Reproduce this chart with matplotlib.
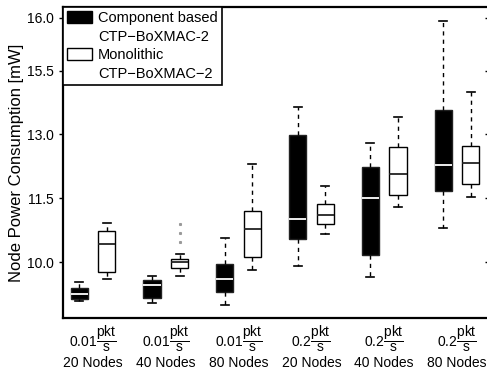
import numpy as np
import matplotlib
matplotlib.use("Agg")
import matplotlib.pyplot as plt
from matplotlib.patches import Patch

plt.rcParams['font.family'] = ['Liberation Sans', 'DejaVu Sans']
plt.rcParams['mathtext.fontset'] = 'custom'
plt.rcParams['mathtext.rm'] = 'Liberation Sans'

#Data (box statistics per configuration)
groups = ["0.01$\\dfrac{\\mathrm{pkt}}{\\mathrm{s}}$\n20 Nodes",
          "0.01$\\dfrac{\\mathrm{pkt}}{\\mathrm{s}}$\n40 Nodes",
          "0.01$\\dfrac{\\mathrm{pkt}}{\\mathrm{s}}$\n80 Nodes",
          "0.2$\\dfrac{\\mathrm{pkt}}{\\mathrm{s}}$\n20 Nodes",
          "0.2$\\dfrac{\\mathrm{pkt}}{\\mathrm{s}}$\n40 Nodes",
          "0.2$\\dfrac{\\mathrm{pkt}}{\\mathrm{s}}$\n80 Nodes"]

comp_lo  = [9.09, 9.03, 8.99, 9.91, 9.64, 10.79]
comp_q1  = [9.13, 9.15, 9.30, 10.53, 10.16, 11.66]
comp_med = [9.26, 9.45, 9.59, 11.01, 11.49, 12.28]
comp_q3  = [9.40, 9.58, 9.95, 12.98, 12.22, 13.56]
comp_hi  = [9.52, 9.67, 10.57, 13.64, 12.80, 15.65]

mono_lo  = [9.61, 9.67, 9.81, 10.65, 11.30, 11.53]
mono_q1  = [9.76, 9.85, 10.11, 10.89, 11.57, 11.84]
mono_med = [10.42, 10.01, 10.77, 11.11, 12.06, 12.31]
mono_q3  = [10.73, 10.06, 11.20, 11.35, 12.69, 12.72]
mono_hi  = [10.92, 10.19, 12.30, 11.79, 13.41, 13.98]
mono_fliers = [[], [10.47, 10.68, 10.89], [], [], [], []]

#Tick labels of the y axis (label positions in data units)
ytick_pos = [10.0, 11.5, 13.0, 14.48, 15.72]
ytick_labels = ["10.0", "11.5", "13.0", "15.5", "16.0"]

def make_stats(lo, q1, med, q3, hi, fliers=None):
    out = []
    for i in range(len(lo)):
        out.append({"whislo": lo[i], "q1": q1[i], "med": med[i], "q3": q3[i],
                    "whishi": hi[i], "fliers": fliers[i] if fliers else []})
    return out

fig = plt.figure(figsize=(4.87, 3.72), dpi=100)
ax = fig.add_axes([63/487, 54/372, 426/487, 311/372])

centers = np.arange(1, 7)
w = 0.235
ax.bxp(make_stats(comp_lo, comp_q1, comp_med, comp_q3, comp_hi),
       positions=centers - 0.19, widths=w, capwidths=0.11, patch_artist=True,
       boxprops=dict(facecolor='black', edgecolor='#222222', linewidth=1),
       medianprops=dict(color='white', linewidth=1.3),
       whiskerprops=dict(color='black', linestyle=(0, (3, 3)), linewidth=1),
       capprops=dict(color='black', linewidth=1.2), manage_ticks=False)
ax.bxp(make_stats(mono_lo, mono_q1, mono_med, mono_q3, mono_hi, mono_fliers),
       positions=centers + 0.19, widths=w, capwidths=0.11, patch_artist=True,
       boxprops=dict(facecolor='white', edgecolor='black', linewidth=1),
       medianprops=dict(color='#222222', linewidth=1.3),
       whiskerprops=dict(color='black', linestyle=(0, (3, 3)), linewidth=1),
       capprops=dict(color='black', linewidth=1.2),
       flierprops=dict(marker='s', markersize=1.2, markerfacecolor='#999999',
                       markeredgecolor='#999999'), manage_ticks=False)

ax.set_xlim(0.588, 6.44)
ax.set_ylim(8.6875, 15.977)
ax.set_xticks(centers)
ax.set_xticklabels(groups, fontsize=10)
ax.tick_params(axis='x', length=0, pad=4)
ax.set_yticks(ytick_pos)
ax.set_yticklabels(ytick_labels, fontsize=10)
ax.tick_params(axis='y', direction='out', length=3, width=1)
ax.set_ylabel("Node Power Consumption [mW]", fontsize=12, labelpad=2)

#inward ticks on the (clipped) right side
ax_r = ax.twinx()
ax_r.set_ylim(ax.get_ylim())
ax_r.set_yticks(ytick_pos)
ax_r.set_yticklabels([])
ax_r.tick_params(axis='y', direction='in', length=3, width=1)
for s in ax_r.spines.values():
    s.set_visible(False)

for s in ['left', 'top', 'bottom']:
    ax.spines[s].set_linewidth(1.6)
ax.spines['right'].set_visible(False)

handles = [Patch(facecolor='black', edgecolor='black'),
           Patch(facecolor='none', edgecolor='none'),
           Patch(facecolor='white', edgecolor='black'),
           Patch(facecolor='none', edgecolor='none')]
labels = ["Component based", "CTP\u2212BoXMAC-2", "Monolithic", "CTP\u2212BoXMAC\u22122"]
leg = ax.legend(handles, labels, loc='upper left', bbox_to_anchor=(0, 1),
                borderaxespad=0, fontsize=10.5, fancybox=False, framealpha=1,
                handlelength=1.7, handleheight=0.9, handletextpad=0.4,
                labelspacing=0.3, borderpad=0.3)
leg.get_frame().set_edgecolor('black')
leg.get_frame().set_linewidth(1.2)

fig.savefig("out.png", dpi=100)
